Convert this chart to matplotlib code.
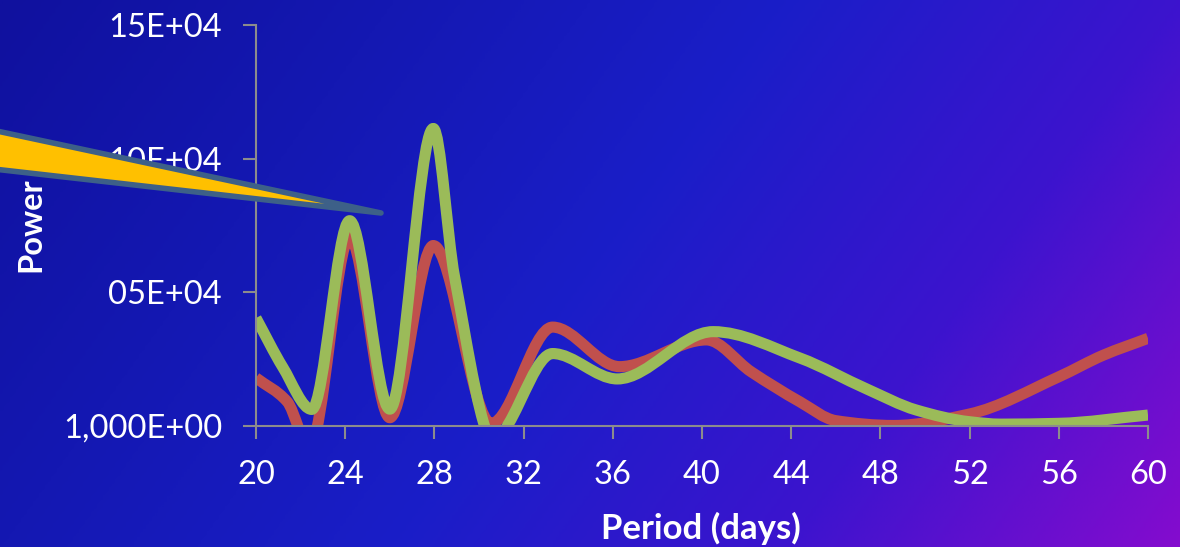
import numpy as np
import matplotlib
matplotlib.use("Agg")
import matplotlib.pyplot as plt
from matplotlib.path import Path
from matplotlib.patches import PathPatch, Polygon
from matplotlib.colors import LinearSegmentedColormap

plt.rcParams['font.family'] = ['Lato', 'DejaVu Sans']

# Periodogram power (units of 1E+04) versus period in days
period_red = [20, 21.4, 22.4, 24.2, 26.0, 27.95, 30.55, 33.3, 36.3, 40.2, 42.2, 44.4, 46.0, 48.6, 52.0, 56.0, 58.0, 60]
power_red = [1.8, 0.91, -0.8, 7.06, 0.31, 6.75, 0.1, 3.70, 2.22, 3.22, 2.03, 0.9, 0.2, 0.02, 0.45, 1.84, 2.65, 3.28]

period_green = [20, 21.2, 22.5, 24.2, 26.0, 27.95, 28.9, 30.75, 31.3, 33.3, 36.2, 40.5, 44.4, 47.4, 49.6, 52.0, 53.4, 56.0, 60]
power_green = [4.04, 2.2, 0.62, 7.68, 0.63, 11.13, 5.6, -0.7, 0.05, 2.71, 1.76, 3.53, 2.54, 1.38, 0.6, 0.16, 0.07, 0.1, 0.41]

x_ticks = [20, 24, 28, 32, 36, 40, 44, 48, 52, 56, 60]
y_ticks = [0, 5, 10, 15]
y_tick_labels = ["1,000E+00", "05E+04", "10E+04", "15E+04"]

W, H, DPI = 1180, 547, 100
fig = plt.figure(figsize=(W / DPI, H / DPI), dpi=DPI)

# Diagonal blue-to-violet backdrop
bg = fig.add_axes([0, 0, 1, 1], zorder=-10)
u = np.linspace(0, 1, 400)[None, :]
v = np.linspace(0, 1, 200)[:, None]
t = 0.75 * u + 0.25 * v
stops = [(0.0, (16, 17, 158)), (0.25, (20, 24, 178)), (0.5, (26, 30, 200)),
         (0.75, (60, 20, 206)), (1.0, (132, 12, 206))]
cmap = LinearSegmentedColormap.from_list(
    "bg", [(p, tuple(c / 255 for c in col)) for p, col in stops])
bg.imshow(t, cmap=cmap, vmin=0, vmax=1, aspect="auto", extent=[0, 1, 1, 0],
          interpolation="bilinear")
bg.set_axis_off()

ax = fig.add_axes([256 / W, 1 - 426 / H, (1148 - 256) / W, (426 - 25) / H])
ax.set_facecolor("none")


def smooth_path(xs, ys):
    """Monotone cubic (Fritsch-Carlson) curve through the points as Bezier segments."""
    x = np.asarray(xs, float)
    y = np.asarray(ys, float)
    h = np.diff(x)
    delta = np.diff(y) / h
    n = len(x)
    d = np.zeros(n)
    d[0], d[-1] = delta[0], delta[-1]
    for k in range(1, n - 1):
        if delta[k - 1] * delta[k] <= 0:
            d[k] = 0.0
        else:
            w1 = 2 * h[k] + h[k - 1]
            w2 = h[k] + 2 * h[k - 1]
            d[k] = (w1 + w2) / (w1 / delta[k - 1] + w2 / delta[k])
    verts = [(x[0], y[0])]
    codes = [Path.MOVETO]
    for k in range(n - 1):
        verts += [(x[k] + h[k] / 3, y[k] + d[k] * h[k] / 3),
                  (x[k + 1] - h[k] / 3, y[k + 1] - d[k + 1] * h[k] / 3),
                  (x[k + 1], y[k + 1])]
        codes += [Path.CURVE4] * 3
    return Path(verts, codes)


for xs, ys, col in [(period_red, power_red, "#C0504D"),
                    (period_green, power_green, "#9BBB59")]:
    ax.add_patch(PathPatch(smooth_path(xs, ys), facecolor="none", edgecolor=col,
                           linewidth=8, capstyle="butt", joinstyle="round", zorder=2))

ax.set_xlim(20, 60)
ax.set_ylim(0, 15)
ax.set_xticks(x_ticks)
ax.set_yticks(y_ticks)
ax.set_yticklabels(y_tick_labels)

axis_gray = "#8C8C8C"
for side in ["top", "right"]:
    ax.spines[side].set_visible(False)
for side in ["left", "bottom"]:
    ax.spines[side].set_color(axis_gray)
    ax.spines[side].set_linewidth(1.5)
    ax.spines[side].set_zorder(3)
ax.tick_params(axis="both", direction="out", length=9.4, width=1.5,
               color=axis_gray, labelcolor="white", labelsize=23.5, pad=15)

fig.text(701 / W, 1 - 528 / H, "Period (days)", ha="center", va="center",
         color="white", fontsize=25, fontweight="bold")
fig.text(31 / W, 1 - 225 / H, "Power", ha="center", va="center", rotation=90,
         color="white", fontsize=23.5, fontweight="bold")

# Pointer wedge overlaid on the left side
wedge_px = [(-200, 89), (381, 213), (-200, 147)]
wedge = Polygon([(px / W, 1 - py / H) for px, py in wedge_px], closed=True,
                facecolor="#FFC000", edgecolor="#3D6088", linewidth=4,
                joinstyle="round", transform=fig.transFigure, zorder=10)
fig.patches.append(wedge)

fig.savefig("out.png", dpi=DPI)
